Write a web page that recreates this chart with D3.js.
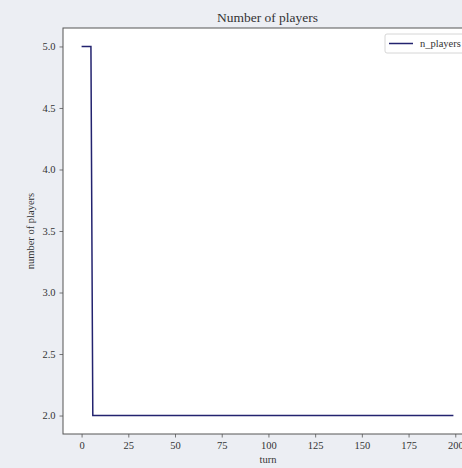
<!DOCTYPE html>
<html><head><meta charset="utf-8">
<script src="https://cdn.jsdelivr.net/npm/d3@7"></script>
<style>
html,body{margin:0;padding:0;background:#eceef3;}
svg{display:block;}
text{font-family:"Liberation Serif","DejaVu Serif",serif;fill:#333;}
</style></head>
<body>
<svg id="c" width="462" height="468"></svg>
<script>
// data: turn at which each value changes (step series), and player counts
const turns = [0, 5, 6, 199];
const nPlayers = [5, 5, 2, 2];
const xTicks = [0, 25, 50, 75, 100, 125, 150, 175, 200];
const yTicks = [2.0, 2.5, 3.0, 3.5, 4.0, 4.5, 5.0];
const title = "Number of players";
const xLabel = "turn";
const yLabel = "number of players";
const seriesName = "n_players";

const svg = d3.select("#c");
const L = 63, T = 28, R = 472, B = 434;
const x = d3.scaleLinear().domain([-9.95, 208.95]).range([L, R]);
const y = d3.scaleLinear().domain([1.85, 5.15]).range([B, T]);

svg.append("rect").attr("x", L).attr("y", T).attr("width", R - L).attr("height", B - T).attr("fill", "#fff");

const line = d3.line().x((d, i) => x(turns[i])).y((d, i) => y(nPlayers[i]));
svg.append("path").datum(turns).attr("d", line).attr("fill", "none")
  .attr("stroke", "#23236f").attr("stroke-width", 1.5);

const gx = svg.append("g").attr("transform", `translate(0,${B})`)
  .call(d3.axisBottom(x).tickValues(xTicks).tickFormat(d3.format("d")).tickSize(3.5).tickPadding(4));
const gy = svg.append("g").attr("transform", `translate(${L},0)`)
  .call(d3.axisLeft(y).tickValues(yTicks).tickFormat(d3.format(".1f")).tickSize(3.5).tickPadding(4));
[gx, gy].forEach(g => {
  g.attr("font-family", '"Liberation Serif", serif').attr("font-size", 10.5);
  g.select(".domain").remove();
  g.selectAll(".tick line").attr("stroke", "#555").attr("stroke-width", 0.8);
  g.selectAll(".tick text").attr("fill", "#444");
});

// spines
svg.append("rect").attr("x", L).attr("y", T).attr("width", R - L).attr("height", B - T)
  .attr("fill", "none").attr("stroke", "#555").attr("stroke-width", 1);

svg.append("text").attr("x", (L + R) / 2).attr("y", 22).attr("text-anchor", "middle")
  .attr("font-size", 13.5).text(title);
svg.append("text").attr("x", 268).attr("y", 463).attr("text-anchor", "middle")
  .attr("font-size", 10.5).text(xLabel);
svg.append("text").attr("transform", `translate(34,${(T + B) / 2}) rotate(-90)`)
  .attr("text-anchor", "middle").attr("font-size", 10.5).text(yLabel);

// legend
const lg = svg.append("g").attr("transform", "translate(385,34)");
lg.append("rect").attr("width", 92).attr("height", 19).attr("rx", 2)
  .attr("fill", "#fff").attr("stroke", "#ccc").attr("stroke-width", 0.8);
lg.append("line").attr("x1", 4).attr("x2", 28).attr("y1", 9.5).attr("y2", 9.5)
  .attr("stroke", "#23236f").attr("stroke-width", 1.5);
lg.append("text").attr("x", 35).attr("y", 13).attr("font-size", 10.5).text(seriesName);
</script>
</body></html>
